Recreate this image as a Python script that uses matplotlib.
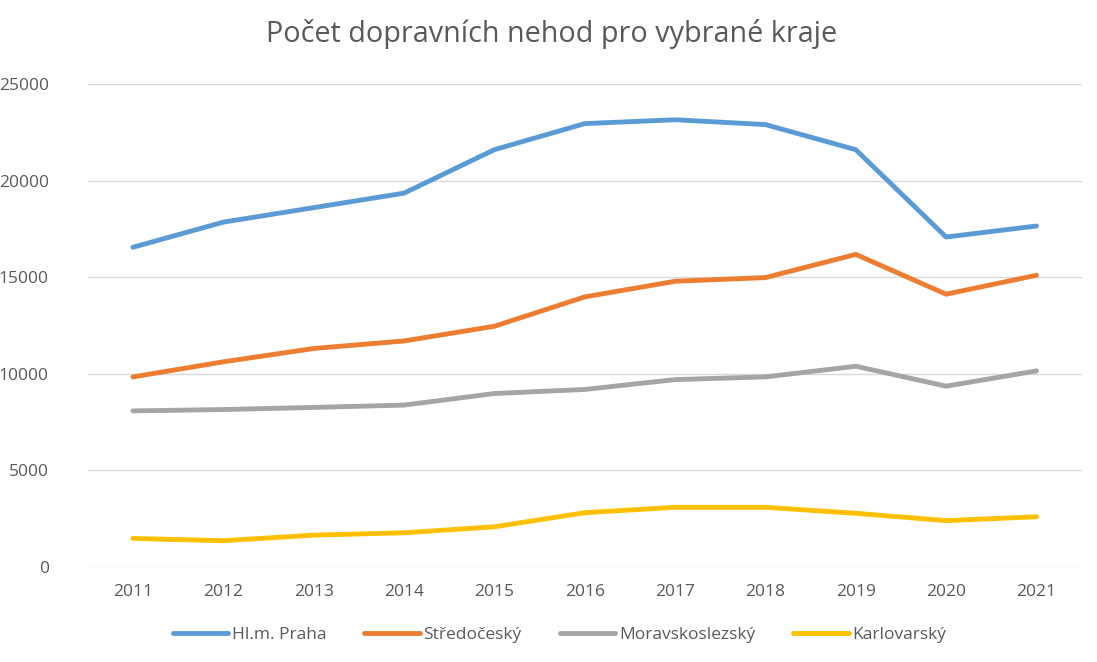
import matplotlib
matplotlib.use("Agg")
import matplotlib.pyplot as plt

plt.rcParams['font.family'] = ['Open Sans', 'DejaVu Sans']

years = ['2011', '2012', '2013', '2014', '2015', '2016', '2017', '2018', '2019', '2020', '2021']
praha = [16550, 17850, 18600, 19350, 21600, 22950, 23150, 22900, 21600, 17080, 17650]
stredocesky = [9840, 10620, 11310, 11700, 12460, 13980, 14790, 14980, 16180, 14120, 15100]
moravskoslezsky = [8080, 8150, 8260, 8380, 8980, 9190, 9700, 9840, 10390, 9360, 10150]
karlovarsky = [1480, 1360, 1650, 1770, 2080, 2810, 3090, 3090, 2780, 2400, 2600]

series = [
    ('Hl.m. Praha', praha, '#5B9BD5'),
    ('Středočeský', stredocesky, '#ED7D31'),
    ('Moravskoslezský', moravskoslezsky, '#A5A5A5'),
    ('Karlovarský', karlovarsky, '#FFC000'),
]

text_color = '#595959'

fig = plt.figure(figsize=(10.97, 6.62), dpi=100)
ax = fig.add_axes([0.080, 0.1435, 0.906, 0.7296])

x = range(len(years))
for name, values, color in series:
    ax.plot(x, values, color=color, linewidth=3.5, label=name,
            solid_capstyle='round', solid_joinstyle='round')

ax.set_xlim(-0.5, len(years) - 0.5)
ax.set_ylim(0, 25000)
ax.set_yticks(range(0, 25001, 5000))
ax.set_xticks(list(x))
ax.set_xticklabels(years)
ax.grid(True, axis='y', color='#D9D9D9', linewidth=1)
ax.set_axisbelow(True)
for s in ax.spines.values():
    s.set_visible(False)
ax.tick_params(axis='both', length=0, colors=text_color, labelsize=12.5)
ax.tick_params(axis='y', pad=28)
ax.tick_params(axis='x', pad=12)

fig.suptitle('Počet dopravních nehod pro vybrané kraje', x=0.503, y=0.972,
             fontsize=20.7, color=text_color)

fig.legend(loc='center', bbox_to_anchor=(0.51, 0.041), ncol=4, frameon=False,
           fontsize=12.5, labelcolor=text_color, handlelength=3.2,
           handletextpad=0.2, columnspacing=2.2)

fig.savefig('out.png', dpi=100)
